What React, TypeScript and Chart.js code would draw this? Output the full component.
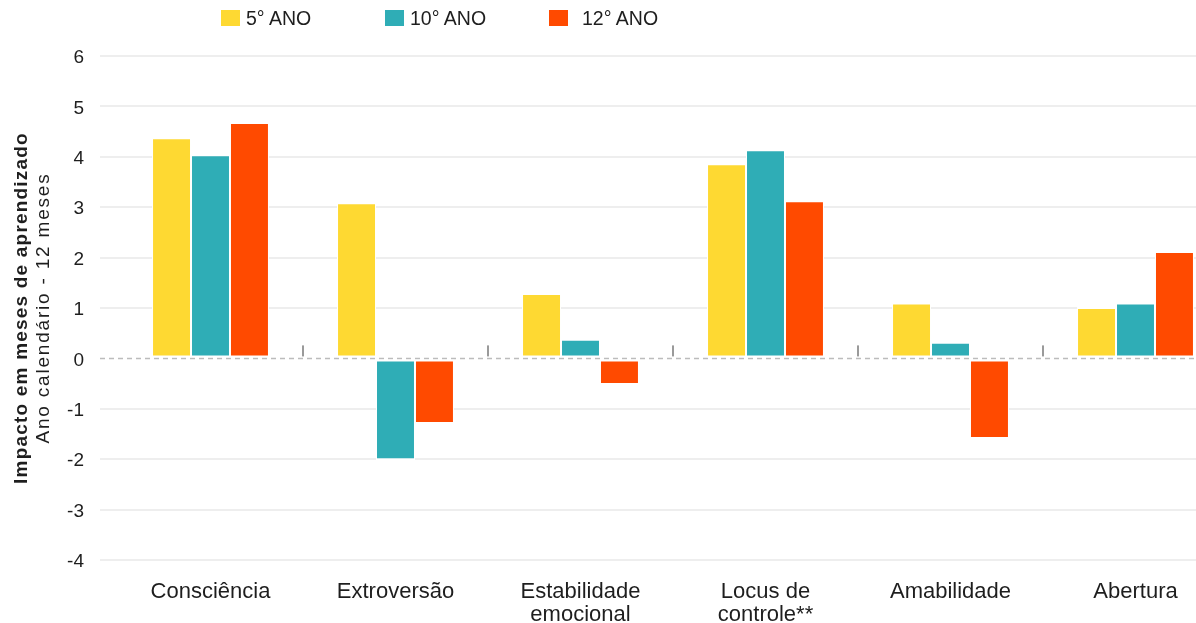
import React, { useEffect, useRef } from "react";
import { Chart, registerables } from "chart.js";

Chart.register(...registerables);

// Personality traits on the category axis (multi-line labels as arrays)
const categories: (string | string[])[] = [
  "Consciência",
  "Extroversão",
  ["Estabilidade", "emocional"],
  ["Locus de", "controle**"],
  "Amabilidade",
  "Abertura",
];

// School years, one bar series each
const seriesNames = ["5° ANO", "10° ANO", "12° ANO"];
const seriesColors = ["#FED932", "#2FADB6", "#FF4A00"];

// Impact in months of learning
const ano5 = [4.39, 3.1, 1.3, 3.87, 1.11, 1.02];
const ano10 = [4.05, -2.02, 0.39, 4.15, 0.33, 1.11];
const ano12 = [4.69, -1.3, -0.53, 3.14, -1.6, 2.13];

const yMin = -4;
const yMax = 6;
const yStep = 1;

const axisTitleLines = ["Impacto em meses de aprendizado", "Ano calendário - 12 meses"];

const FONT = '"Liberation Sans", Arial, Helvetica, sans-serif';
const TEXT = "#1e1e1e";

// dashed reference line at zero
const zeroLinePlugin = {
  id: "zeroLine",
  beforeDatasetsDraw(chart: any) {
    const { ctx, chartArea, scales } = chart;
    const y = Math.round(scales.y.getPixelForValue(0)) + 0.5;
    ctx.save();
    ctx.strokeStyle = "#bcbcbc";
    ctx.lineWidth = 1.5;
    ctx.setLineDash([5, 4]);
    ctx.beginPath();
    ctx.moveTo(scales.y.right - 18, y);
    ctx.lineTo(chartArea.right, y);
    ctx.stroke();
    ctx.restore();
  },
};

// short marks between neighbouring categories, just above zero
const separatorPlugin = {
  id: "separators",
  afterDatasetsDraw(chart: any) {
    const { ctx, scales } = chart;
    const x = scales.x;
    const y0 = scales.y.getPixelForValue(0);
    ctx.save();
    ctx.fillStyle = "#9a9a9a";
    for (let i = 1; i < categories.length; i++) {
      const px = (x.getPixelForValue(i - 1) + x.getPixelForValue(i)) / 2;
      ctx.fillRect(Math.round(px) - 1, y0 - 13, 2, 11);
    }
    ctx.restore();
  },
};

// two-line rotated y-axis title, first line bold
const yTitlePlugin = {
  id: "yTitle",
  afterDraw(chart: any) {
    const { ctx, chartArea } = chart;
    const cy = (chartArea.top + chartArea.bottom) / 2;
    const lines = [
      { text: axisTitleLines[0], x: 27, font: `bold 19px ${FONT}`, spacing: "1.2px" },
      { text: axisTitleLines[1], x: 49, font: `19px ${FONT}`, spacing: "1.8px" },
    ];
    ctx.save();
    ctx.fillStyle = TEXT;
    ctx.textAlign = "center";
    ctx.textBaseline = "alphabetic";
    for (const l of lines) {
      ctx.save();
      ctx.translate(l.x, cy);
      ctx.rotate(-Math.PI / 2);
      ctx.font = l.font;
      (ctx as any).letterSpacing = l.spacing;
      ctx.fillText(l.text, 0, 0);
      ctx.restore();
    }
    ctx.restore();
  },
};

export default function App() {
  const canvasRef = useRef<HTMLCanvasElement | null>(null);

  useEffect(() => {
    if (!canvasRef.current) return;
    const seriesValues = [ano5, ano10, ano12];
    const chart = new Chart(canvasRef.current, {
      type: "bar",
      data: {
        labels: categories as any,
        datasets: seriesNames.map((name, i) => ({
          label: name,
          data: seriesValues[i],
          backgroundColor: seriesColors[i],
          borderColor: "#ffffff",
          borderWidth: { top: 2, bottom: 2, left: 1, right: 1 },
          borderSkipped: false,
          categoryPercentage: 0.632,
          barPercentage: 1,
        })),
      },
      options: {
        responsive: false,
        animation: false,
        devicePixelRatio: 1,
        layout: { padding: { top: 56, right: 0, bottom: 0, left: 0 } },
        plugins: {
          legend: { display: false },
          tooltip: { enabled: false },
        },
        scales: {
          x: {
            grid: { display: false, drawTicks: false },
            border: { display: false },
            ticks: {
              color: TEXT,
              padding: 20,
              maxRotation: 0,
              autoSkip: false,
              font: { family: FONT, size: 22, lineHeight: 1.05 },
            },
            afterFit: (s: any) => {
              s.height = 63;
            },
          },
          y: {
            min: yMin,
            max: yMax,
            border: { display: false },
            grid: {
              color: (c: any) => (c.tick && c.tick.value === 0 ? "rgba(0,0,0,0)" : "#eeeeee"),
              lineWidth: 2,
              drawTicks: true,
              tickLength: 18,
            },
            ticks: {
              stepSize: yStep,
              color: TEXT,
              padding: 16,
              labelOffset: 2,
              font: { family: FONT, size: 19 },
            },
            afterFit: (s: any) => {
              s.width = 118;
            },
          },
        },
      },
      plugins: [zeroLinePlugin, separatorPlugin, yTitlePlugin],
    });
    return () => chart.destroy();
  }, []);

  return (
    <div
      style={{
        position: "fixed",
        left: 0,
        top: 0,
        width: "100vw",
        height: "100vh",
        overflow: "hidden",
        background: "#ffffff",
      }}
    >
      <div style={{ position: "relative", width: 1228, height: 623 }}>
        <canvas ref={canvasRef} width={1228} height={623} style={{ display: "block", width: 1228, height: 623 }} />
        <div
          style={{
            position: "absolute",
            left: 221,
            top: 0,
            height: 36,
            display: "flex",
            alignItems: "center",
            fontFamily: FONT,
            fontSize: 19.5,
            color: TEXT,
          }}
        >
          {seriesNames.map((name, i) => (
            <div key={name} style={{ width: 164, display: "flex", alignItems: "center" }}>
              <span
                style={{ display: "inline-block", width: 19, height: 16, background: seriesColors[i], marginRight: i === 2 ? 14 : 6 }}
              />
              <span>{name}</span>
            </div>
          ))}
        </div>
      </div>
    </div>
  );
}
